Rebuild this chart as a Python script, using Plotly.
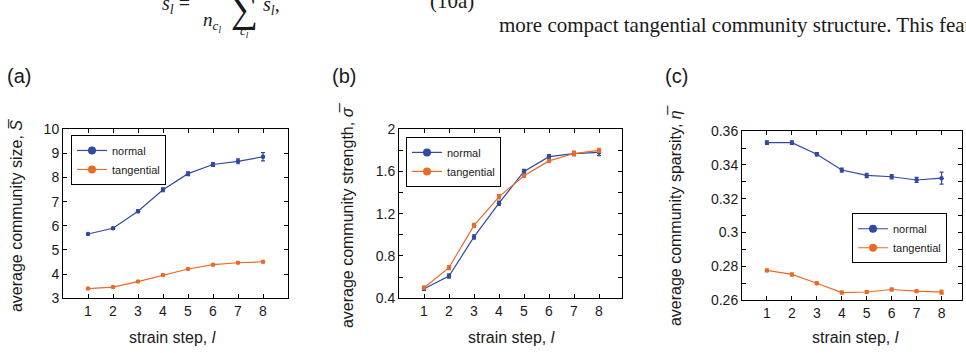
import plotly.graph_objects as go

steps = [1, 2, 3, 4, 5, 6, 7, 8]

size_normal = [5.66, 5.90, 6.60, 7.49, 8.16, 8.54, 8.67, 8.86]
size_normal_err = [0.03, 0.04, 0.06, 0.08, 0.08, 0.08, 0.10, 0.17]
size_tang = [3.40, 3.46, 3.69, 3.96, 4.21, 4.39, 4.47, 4.51]
size_tang_err = [0.03, 0.03, 0.03, 0.03, 0.03, 0.03, 0.03, 0.04]

strength_normal = [0.49, 0.61, 0.98, 1.30, 1.60, 1.74, 1.77, 1.78]
strength_normal_err = [0.015, 0.02, 0.02, 0.02, 0.02, 0.02, 0.02, 0.03]
strength_tang = [0.50, 0.69, 1.09, 1.36, 1.56, 1.70, 1.77, 1.80]
strength_tang_err = [0.015, 0.02, 0.02, 0.02, 0.015, 0.015, 0.02, 0.02]

spars_normal = [0.3532, 0.3532, 0.3463, 0.3370, 0.3338, 0.3330, 0.3311, 0.3322]
spars_normal_err = [0.001, 0.001, 0.001, 0.0012, 0.0013, 0.0013, 0.0015, 0.0035]
spars_tang = [0.2776, 0.2752, 0.2700, 0.2645, 0.2648, 0.2663, 0.2653, 0.2647]
spars_tang_err = [0.0008, 0.0008, 0.0008, 0.0008, 0.0008, 0.0008, 0.0008, 0.0012]

series_names = ["normal", "tangential"]
BLUE = "#3149a0"
ORANGE = "#ea6a28"
FONT = "Liberation Sans, Arial, sans-serif"
SERIF = "Liberation Serif, Times New Roman, serif"
TXT = "#1a1a1a"

W, H = 966, 353


def px_x(v):
    return v / W


def px_y(v):
    return 1 - v / H


fig = go.Figure()

panels = [
    ("x", "y", size_normal, size_normal_err, size_tang, size_tang_err, "legend"),
    ("x2", "y2", strength_normal, strength_normal_err, strength_tang, strength_tang_err, "legend2"),
    ("x3", "y3", spars_normal, spars_normal_err, spars_tang, spars_tang_err, "legend3"),
]

for xa, ya, yn, en, yt, et, lg in panels:
    for vals, errs, col in ((yn, en, BLUE), (yt, et, ORANGE)):
        fig.add_trace(go.Scatter(
            x=steps, y=vals, xaxis=xa, yaxis=ya, mode="lines+markers",
            line=dict(color=col, width=1.2),
            marker=dict(color=col, size=4.5),
            error_y=dict(type="data", array=errs, color=col, thickness=1.2, width=2),
            showlegend=False, hoverinfo="skip",
        ))
    for name, col in zip(series_names, (BLUE, ORANGE)):
        fig.add_trace(go.Scatter(
            x=[None], y=[None], xaxis=xa, yaxis=ya, mode="lines+markers",
            line=dict(color=col, width=1.2), marker=dict(color=col, size=8),
            name=name, legend=lg, showlegend=True,
        ))


def xaxis(domain, rng, anchor):
    return dict(domain=domain, range=rng, anchor=anchor, showline=True, linecolor="black",
                linewidth=1, mirror="allticks", ticks="inside", ticklen=4, tickcolor="black",
                showgrid=False, zeroline=False, tickvals=steps,
                tickfont=dict(size=14, color=TXT, family=FONT))


def yaxis(domain, rng, anchor, dtick, tick0, minor=None):
    d = dict(domain=domain, range=rng, anchor=anchor, showline=True, linecolor="black",
             linewidth=1, mirror="allticks", ticks="inside", ticklen=4, tickcolor="black",
             showgrid=False, zeroline=False, dtick=dtick, tick0=tick0,
             tickfont=dict(size=14, color=TXT, family=FONT))
    if minor is not None:
        d["minor"] = dict(dtick=minor, ticks="inside", ticklen=4, tickcolor="black", showgrid=False)
    return d


ydom_ab = [px_y(304), px_y(127)]
ydom_c = [px_y(306), px_y(129)]

fig.update_layout(
    xaxis=xaxis([px_x(63), px_x(288)], [0, 9], "y"),
    yaxis=yaxis(ydom_ab, [3, 10], "x", 1, 3),
    xaxis2=xaxis([px_x(399), px_x(622)], [0, 8.92], "y2"),
    yaxis2=yaxis(ydom_ab, [0.4, 2.0], "x2", 0.4, 0.4, 0.2),
    xaxis3=xaxis([px_x(742), px_x(962)], [0, 8.82], "y3"),
    yaxis3=yaxis(ydom_c, [0.26, 0.36], "x3", 0.02, 0.26, 0.01),
)

legend_style = dict(bgcolor="white", bordercolor="black", borderwidth=1,
                    font=dict(size=11, color=TXT, family=FONT), itemwidth=30,
                    xanchor="left", yanchor="top", tracegroupgap=0)
fig.update_layout(
    legend=dict(x=px_x(71), y=px_y(133), **legend_style),
    legend2=dict(x=px_x(406), y=px_y(135), **legend_style),
    legend3=dict(x=px_x(852), y=px_y(215), **legend_style),
)

ann = []


def add_text(text, xc, yc, size, family=FONT, angle=0, xanchor="center"):
    ann.append(dict(text=text, x=px_x(xc), y=px_y(yc), xref="paper", yref="paper",
                    xanchor=xanchor, yanchor="middle", textangle=angle, showarrow=False,
                    font=dict(size=size, color=TXT, family=family)))


# panel letters
for lbl, xc in (("(a)", 19), ("(b)", 344), ("(c)", 676)):
    add_text(lbl, xc, 71, 20)
# x titles
for xc in (172, 511, 855):
    add_text("strain step, <i>l</i>", xc, 345, 16)
# y titles
add_text("average community size, <i>S\u0305</i>", 16, 218, 16, angle=-90)
add_text("average community strength, <i>\u03c3\u0305</i>", 347, 218, 16, angle=-90)
add_text("average community sparsity, <i>\u03b7\u0305</i>", 675, 218, 16, angle=-90)

# fragments of the surrounding page text
add_text("more compact tangential community structure. This feature", 497, 18, 21,
         family=SERIF, xanchor="left")
add_text("(10a)", 428, -7, 21, family=SERIF, xanchor="left")
add_text("<i>s<sub>l</sub></i> =", 176, -4, 20, family=SERIF)
add_text("<i>n</i><sub><i>c<sub>l</sub></i></sub>", 212, 15, 19, family=SERIF)
add_text("\u2211", 244, 2, 38, family=SERIF)
add_text("<i>c<sub>l</sub></i>", 244, 25, 13, family=SERIF)
add_text("<i>s<sub>l</sub></i>,", 271, -3, 20, family=SERIF)

fig.update_layout(
    annotations=ann,
    width=W, height=H, margin=dict(l=0, r=0, t=0, b=0),
    paper_bgcolor="white", plot_bgcolor="white",
    font=dict(family=FONT, color=TXT),
)

fig.write_html("out.html")
